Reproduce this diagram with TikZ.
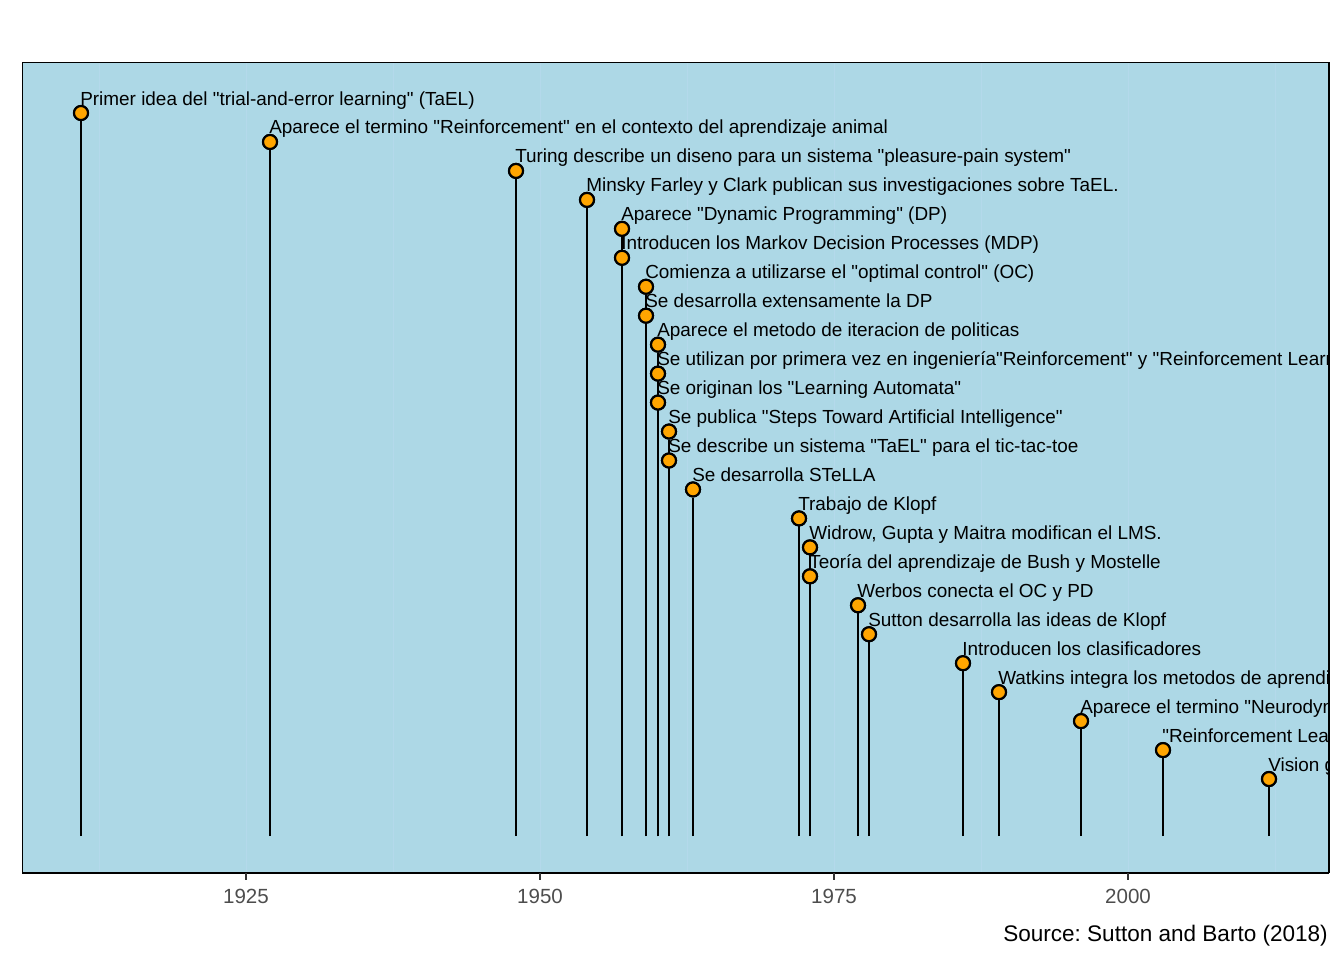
\documentclass[tikz,border=0pt]{standalone}
\usepackage{fontspec}
\setmainfont{Liberation Sans}[Ligatures=TeXOff]
\usetikzlibrary{positioning}

\definecolor{panelblue}{HTML}{ADD8E6}
\definecolor{gridblue}{HTML}{B4D9EB}
\definecolor{dotorange}{HTML}{FFA500}
\definecolor{axisgray}{HTML}{4D4D4D}
\definecolor{tickgray}{HTML}{333333}

\tikzset{
  eventdot/.style={circle, draw=black, fill=dotorange, line width=1.6pt,
    minimum size=10.5pt, inner sep=0pt},
  eventtext/.style={anchor=base west, inner sep=0pt,
    font=\fontsize{14.2}{16}\selectfont},
  stem/.style={line width=1.5pt},
  yearlabel/.style={anchor=base, text=axisgray, inner sep=0pt,
    font=\fontsize{15.4}{18}\selectfont},
}

\begin{document}
\frenchspacing
\begin{tikzpicture}[x=0.75pt, y=-0.75pt]
    \useasboundingbox (0,0) rectangle (1344,960);

    % Panel
    \fill[panelblue] (22,62) rectangle (1328,873);
    \foreach \g in {1912.5,1925,...,2012.5}
      \draw[gridblue, line width=0.7pt] ({540+(\g-1950)*11.76},62) -- ({540+(\g-1950)*11.76},873);

    \begin{scope}
      \clip (22,62) rectangle (1328,873);
      % Events: year / text
      \foreach \yr/\txt [count=\i] in {
          1911/{Primer idea del "trial-and-error learning" (TaEL)},
          1927/{Aparece el termino "Reinforcement" en el contexto del aprendizaje animal},
          1948/{Turing describe un diseno para un sistema "pleasure-pain system"},
          1954/{Minsky Farley y Clark publican sus investigaciones sobre TaEL.},
          1957/{Aparece "Dynamic Programming" (DP)},
          1957/{Introducen los Markov Decision Processes (MDP)},
          1959/{Comienza a utilizarse el "optimal control" (OC)},
          1959/{Se desarrolla extensamente la DP},
          1960/{Aparece el metodo de iteracion de politicas},
          1960/{Se utilizan por primera vez en ingeniería"Reinforcement" y "Reinforcement Learning"},
          1960/{Se originan los "Learning Automata"},
          1961/{Se publica "Steps Toward Artificial Intelligence"},
          1961/{Se describe un sistema "TaEL" para el tic-tac-toe},
          1963/{Se desarrolla STeLLA},
          1972/{Trabajo de Klopf},
          1973/{Widrow, Gupta y Maitra modifican el LMS.},
          1973/{Teoría del aprendizaje de Bush y Mostelle},
          1977/{Werbos conecta el OC y PD},
          1978/{Sutton desarrolla las ideas de Klopf},
          1986/{Introducen los clasificadores},
          1989/{Watkins integra los metodos de aprendizaje},
          1996/{Aparece el termino "Neurodynamic Programming"},
          2003/{"Reinforcement Learning"},
          2012/{Vision general}} {
        \pgfmathsetmacro\xx{round(540+(\yr-1950)*11.76)}
        \pgfmathsetmacro\yy{113+(\i-1)*28.957}
        \coordinate (b\i) at (\xx,836);
        \node[eventdot] (p\i) at (\xx,\yy) {};
        \draw[stem] (b\i) -- (p\i.south);
        \node[eventdot] at (p\i) {};
        \node[eventtext] (t\i) at (\xx-1,\yy-8) {\txt};
      }
    \end{scope}

    % Frame and x axis
    \draw[line width=0.75pt] (22,62) rectangle (1328,873);
    \draw[line width=1.5pt] (22,873) -- (1329,873);
    \draw[line width=1.5pt] (1328.5,62) -- (1328.5,873);
    \foreach \yr in {1925,1950,1975,2000} {
      \draw[tickgray, line width=1.1pt] ({540+(\yr-1950)*11.76},873) -- ({540+(\yr-1950)*11.76},880);
      \node[yearlabel] (y\yr) at ({540+(\yr-1950)*11.76},903.5) {\yr};
    }

    % Caption
    \node[anchor=base east, inner sep=0pt, font=\fontsize{16.9}{20}\selectfont] (src) at (1328,941.5) {Source: Sutton and Barto (2018)};
\end{tikzpicture}
\end{document}
